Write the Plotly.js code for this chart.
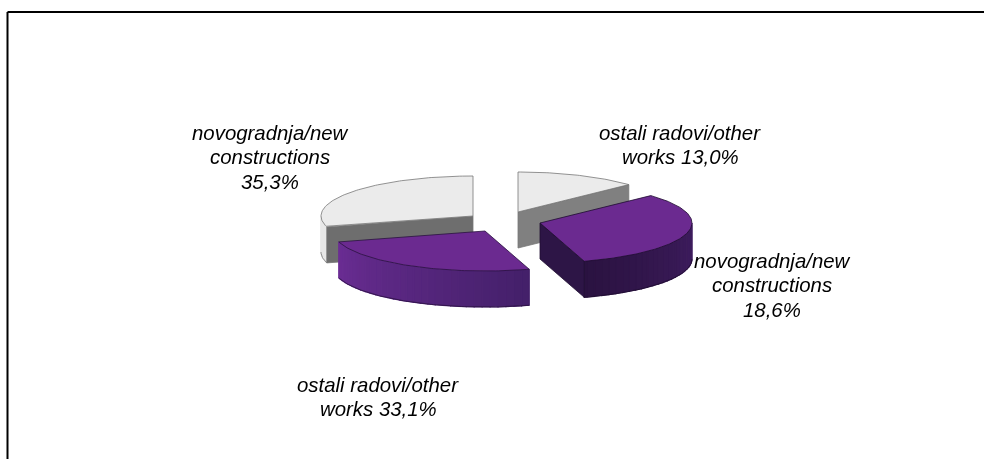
<!DOCTYPE html>
<html><head><meta charset="utf-8">
<script src="https://cdn.plot.ly/plotly-3.0.1.min.js"></script>
<style>html,body{margin:0;padding:0;background:#fff}.main-svg{filter:blur(0.4px)}</style>
</head><body><div id="chart" style="width:984px;height:459px"></div>
<script>
// Data
const categories = ['ostali radovi/other works', 'novogradnja/new constructions', 'ostali radovi/other works', 'novogradnja/new constructions'];
const labelPercents = [13.0, 18.6, 33.1, 35.3];      // percentages printed in the labels
const drawnShares = [13.0, 32.3, 25.3, 29.4];        // share of the circle as actually drawn
const labelLines = [
  ['ostali radovi/other', 'works 13,0%'],
  ['novogradnja/new', 'constructions', '18,6%'],
  ['ostali radovi/other', 'works 33,1%'],
  ['novogradnja/new', 'constructions', '35,3%']
];

// Layout and style
const RX = 152, RY = 40, DEPTH = 36, LINE_H = 24.3;
const centres = [[518, 212], [540, 223], [485, 231], [473, 216]];
const labelPos = [[680, 133], [772, 261], [378, 385], [270, 133]];
const topCol = ['#ebebeb', '#6b2a90', '#6b2a90', '#ebebeb'];
const cutCol = ['#808080', '#2d1546', '#47206b', '#6e6e6e'];
const sideRight = ['#e8e8e8', '#3f1d60', '#44206a', '#e8e8e8'];
const sideLeft = ['#e8e8e8', '#2a1240', '#6b2d94', '#e8e8e8'];
const edgeCol = ['#777777', '#1e0d30', '#2a1240', '#777777'];
const cutAngleIndex = [1, 1, null, 0];     // which end of each slice shows a cut face
const drawOrder = [3, 0, 1, 2];

const rad = d => d * Math.PI / 180;
function pt(c, t, dy) { return [c[0] + RX * Math.sin(rad(t)), c[1] - RY * Math.cos(rad(t)) + (dy || 0)]; }
function arc(c, a, b, dy) { const out = []; const n = Math.max(2, Math.ceil(Math.abs(b - a))); for (let i = 0; i <= n; i++) out.push(pt(c, a + (b - a) * i / n, dy)); return out; }
function hex(s) { return [1, 3, 5].map(i => parseInt(s.substr(i, 2), 16)); }
function mix(a, b, f) { const A = hex(a), B = hex(b); return 'rgb(' + A.map((v, i) => Math.round(v + (B[i] - v) * f)).join(',') + ')'; }
function poly(points, fill, line, w) {
  const p = points.concat([points[0]]);
  return { type: 'scatter', mode: 'lines', x: p.map(q => q[0]), y: p.map(q => q[1]), fill: 'toself', fillcolor: fill,
    line: { color: line || fill, width: w === undefined ? 1.2 : w }, hoverinfo: 'skip', showlegend: false };
}

let cum = 0;
const ranges = drawnShares.map(s => { const r = [cum * 3.6, (cum + s) * 3.6]; cum += s; return r; });
const traces = [];
drawOrder.forEach(i => {
  const c = centres[i], a = ranges[i][0], b = ranges[i][1], apex = [c[0], c[1]];
  // outer wall: only the front half (90..270) is visible
  const wallStart = Math.max(a, 90), wallEnd = Math.min(b, 270);
  if (wallEnd > wallStart) {
    const step = 3;
    for (let t = wallStart; t < wallEnd; t += step) {
      const e = Math.min(t + step, wallEnd), f = (t - wallStart) / (wallEnd - wallStart);
      traces.push(poly(arc(c, t, e, 0).concat(arc(c, e, t, DEPTH)), mix(sideRight[i], sideLeft[i], f)));
    }
    const outline = arc(c, wallStart, wallEnd, DEPTH);
    traces.push({ type: 'scatter', mode: 'lines', x: outline.map(q => q[0]), y: outline.map(q => q[1]), line: { color: edgeCol[i], width: 0.8 }, hoverinfo: 'skip', showlegend: false });
  }
  // cut face
  if (cutAngleIndex[i] !== null) {
    const t = ranges[i][cutAngleIndex[i]];
    traces.push(poly([apex, pt(c, t, 0), pt(c, t, DEPTH), [apex[0], apex[1] + DEPTH]], cutCol[i], edgeCol[i], 0.8));
  }
  // top face
  traces.push(poly([apex].concat(arc(c, a, b, 0)), topCol[i], edgeCol[i], 0.8));
});

const annotations = [];
labelLines.forEach((lines, i) => lines.forEach((t, k) => annotations.push({
  x: labelPos[i][0], y: labelPos[i][1] + k * LINE_H, xref: 'x', yref: 'y', text: '<i>' + t + '</i>', showarrow: false,
  align: 'center', xanchor: 'center', yanchor: 'middle',
  font: { family: 'Liberation Sans, Arial, sans-serif', size: 20.4, color: '#000' }
})));

const layout = {
  width: 984, height: 459, margin: { l: 0, r: 0, t: 0, b: 0 }, paper_bgcolor: '#fff', plot_bgcolor: '#fff', showlegend: false,
  xaxis: { range: [0, 984], visible: false, fixedrange: true },
  yaxis: { range: [459, 0], visible: false, fixedrange: true },
  annotations,
  shapes: [
    { type: 'line', xref: 'x', yref: 'y', x0: 7.5, x1: 984, y0: 12, y1: 12, line: { color: '#000', width: 2 } },
    { type: 'line', xref: 'x', yref: 'y', x0: 7.5, x1: 7.5, y0: 12, y1: 459, line: { color: '#000', width: 2 } }
  ]
};
Plotly.newPlot('chart', traces, layout, { staticPlot: true, displayModeBar: false });
</script></body></html>
